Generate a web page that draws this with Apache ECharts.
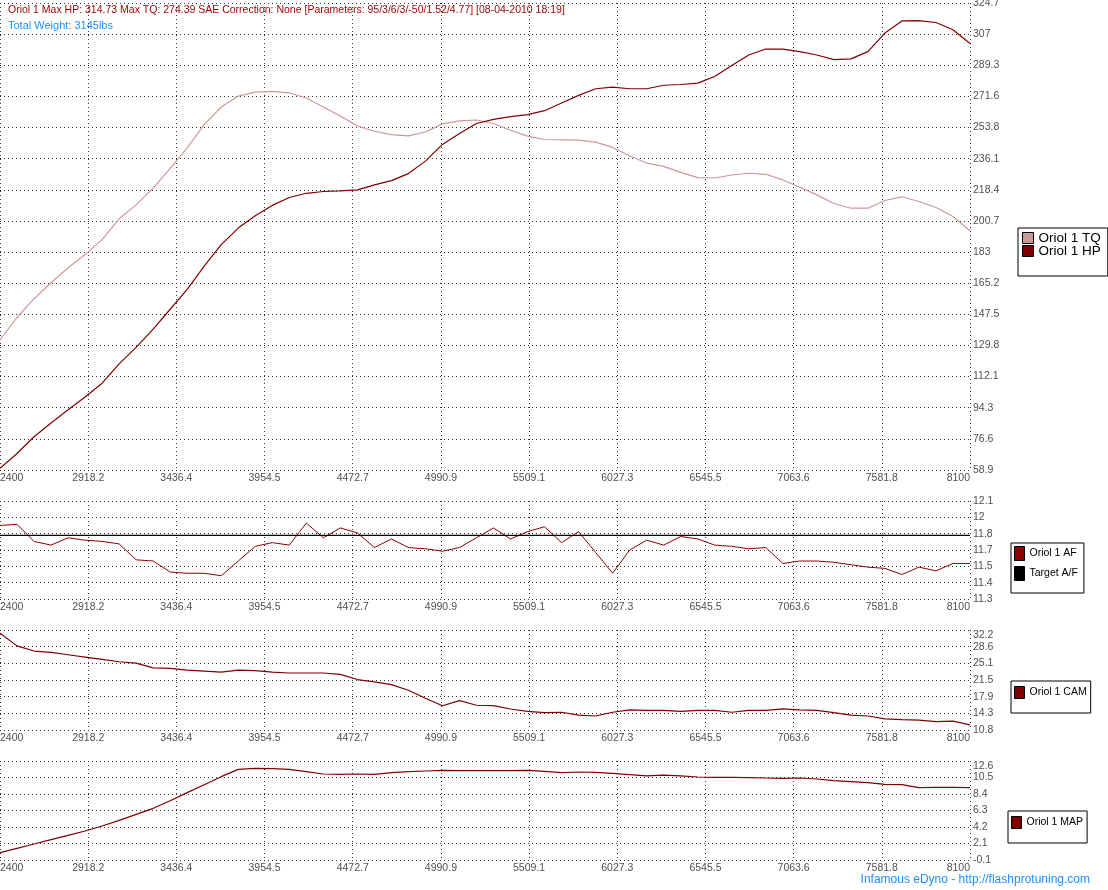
<!DOCTYPE html>
<html>
<head>
<meta charset="utf-8">
<title>Oriol 1 - eDyno</title>
<script src="https://cdn.jsdelivr.net/npm/echarts@6.0.0/dist/echarts.min.js"></script>
<style>
html, body { margin: 0; padding: 0; background: #fff; }
#chart { width: 1108px; height: 890px; }
</style>
</head>
<body>
<div id="chart"></div>
<script>
// engine speed of every logged sample
var rpm = [2400, 2500, 2600, 2700, 2800, 2900, 3000, 3100, 3200, 3300,
    3400, 3500, 3600, 3700, 3800, 3900, 4000, 4100, 4200, 4300,
    4400, 4500, 4600, 4700, 4800, 4900, 5000, 5100, 5200, 5300,
    5400, 5500, 5600, 5700, 5800, 5900, 6000, 6100, 6200, 6300,
    6400, 6500, 6600, 6700, 6800, 6900, 7000, 7100, 7200, 7300,
    7400, 7500, 7600, 7700, 7800, 7900, 8000, 8100];

var tq = [132.9, 145.7, 156.4, 165.5, 174.0, 181.5, 190.0, 201.9, 209.8, 219.3,
    230.6, 242.3, 255.5, 265.5, 271.7, 274.0, 274.4, 273.6, 270.6, 265.5,
    260.4, 254.7, 251.7, 249.8, 249.1, 251.3, 255.9, 257.6, 258.1, 256.1,
    252.3, 248.9, 247.0, 246.8, 246.6, 245.5, 242.5, 237.8, 233.6, 231.7,
    228.3, 225.3, 225.1, 226.8, 227.8, 227.2, 224.0, 219.8, 215.5, 210.6,
    207.9, 207.9, 212.3, 214.4, 211.7, 208.3, 203.2, 195.1];

var hp = [59.8, 68.3, 77.8, 85.7, 93.2, 100.4, 108.3, 119.3, 128.7, 139.1,
    150.4, 161.7, 174.9, 187.2, 196.6, 203.6, 209.5, 214.0, 216.4, 217.4,
    217.8, 218.3, 221.2, 223.6, 227.6, 234.7, 244.2, 250.4, 256.1, 258.5,
    260.0, 261.2, 263.4, 267.8, 272.1, 275.9, 276.8, 275.9, 275.9, 277.9,
    278.3, 279.1, 282.9, 289.1, 295.1, 298.5, 298.5, 297.0, 295.1, 292.5,
    292.9, 297.0, 307.6, 314.5, 314.7, 313.6, 309.5, 301.7];

var af = [11.90, 11.91, 11.77, 11.74, 11.80, 11.78, 11.77, 11.75, 11.62, 11.61,
    11.52, 11.51, 11.51, 11.49, 11.61, 11.73, 11.76, 11.74, 11.92, 11.80,
    11.88, 11.84, 11.72, 11.79, 11.72, 11.71, 11.69, 11.72, 11.80, 11.88,
    11.79, 11.85, 11.89, 11.76, 11.85, 11.68, 11.51, 11.70, 11.78, 11.74,
    11.81, 11.79, 11.74, 11.73, 11.71, 11.72, 11.59, 11.61, 11.61, 11.60,
    11.58, 11.56, 11.55, 11.50, 11.56, 11.53, 11.59, 11.59];
var targetAF = 11.82;

var cam = [31.5, 28.8, 27.7, 27.4, 26.9, 26.4, 25.9, 25.4, 25.1, 24.1,
    24.0, 23.6, 23.4, 23.2, 23.6, 23.5, 23.2, 23.0, 23.0, 23.0,
    22.7, 21.6, 21.1, 20.5, 19.3, 17.6, 16.0, 17.1, 16.1, 16.0,
    15.3, 14.8, 14.5, 14.6, 14.0, 13.8, 14.6, 15.1, 15.0, 15.0,
    14.8, 15.0, 15.0, 14.6, 15.0, 15.0, 15.3, 15.1, 15.0, 14.5,
    14.0, 13.8, 13.2, 13.0, 12.9, 12.6, 12.7, 11.9];

var map = [0.84, 1.40, 1.95, 2.51, 3.06, 3.62, 4.26, 4.99, 5.76, 6.53,
    7.51, 8.54, 9.56, 10.59, 11.53, 11.66, 11.62, 11.53, 11.23, 10.93,
    10.89, 10.93, 10.89, 11.10, 11.23, 11.32, 11.40, 11.36, 11.36, 11.36,
    11.36, 11.40, 11.27, 11.10, 11.19, 11.15, 11.02, 10.85, 10.68, 10.80,
    10.68, 10.55, 10.50, 10.50, 10.46, 10.42, 10.38, 10.42, 10.29, 10.08,
    9.95, 9.82, 9.61, 9.56, 9.18, 9.22, 9.22, 9.18];

// tick labels as the dyno software prints them
var rpmTicks = [2400, 2918.2, 3436.4, 3954.5, 4472.7, 4990.9, 5509.1, 6027.3, 6545.5, 7063.6, 7581.8, 8100];
var powerTicks = ['58.9', '76.6', '94.3', '112.1', '129.8', '147.5', '165.2', '183', '200.7', '218.4',
    '236.1', '253.8', '271.6', '289.3', '307', '324.7'];
var afTicks = ['11.3', '11.4', '11.5', '11.7', '11.8', '12', '12.1'];
var camTicks = ['10.8', '14.3', '17.9', '21.5', '25.1', '28.6', '32.2'];
var mapTicks = ['-0.1', '2.1', '4.2', '6.3', '8.4', '10.5', '12.6'];

var dotted = { color: '#333', width: 1, type: [1, 3] };
var labelColor = '#505050';
var labelSize = 10.5;

function pairs(ys) {
    return rpm.map(function (r, i) { return [r, ys[i]]; });
}

function xAxis(idx) {
    return {
        type: 'value', gridIndex: idx, min: 2400, max: 8100,
        axisLine: { show: false },
        axisTick: { show: false, customValues: rpmTicks },
        axisLabel: {
            customValues: rpmTicks, color: labelColor, fontSize: labelSize, margin: 3,
            alignMinLabel: 'left', alignMaxLabel: 'right', hideOverlap: false,
            formatter: function (v) { return String(v); }
        },
        splitLine: { show: true, lineStyle: dotted }
    };
}

// evenly spaced ticks between first and last label, shown with the printed text
function yAxis(idx, labels, dropTop) {
    var n = labels.length - 1;
    var lo = parseFloat(labels[0]), hi = parseFloat(labels[n]);
    var step = (hi - lo) / n;
    var vals = labels.map(function (l, i) { return i === n ? hi : lo + i * step; });
    return {
        type: 'value', gridIndex: idx, position: 'right', min: lo, max: hi,
        axisLine: { show: false },
        axisTick: { show: false, customValues: vals },
        axisLabel: {
            customValues: vals, color: labelColor, fontSize: labelSize, margin: 3, hideOverlap: false,
            formatter: function (v) {
                var i = Math.round((v - lo) / step);
                return (dropTop && i === n) ? '{t|' + labels[i] + '}' : labels[i];
            },
            rich: { t: { color: labelColor, fontSize: labelSize, padding: [10, 0, 0, 0] } }
        },
        splitLine: { show: true, lineStyle: dotted }
    };
}

function line(name, idx, ys, color, w) {
    return {
        name: name, type: 'line', xAxisIndex: idx, yAxisIndex: idx,
        data: pairs(ys), symbol: 'none', color: color,
        lineStyle: { color: color, width: w }, animation: false
    };
}

function smallLegend(names, left, top, ih, pad) {
    return {
        data: names, left: left, top: top, orient: 'vertical', icon: 'rect',
        itemWidth: 10, itemHeight: ih, itemGap: 5, padding: pad,
        borderColor: '#000', borderWidth: 1, backgroundColor: '#fff',
        itemStyle: { borderColor: '#000', borderWidth: 1 },
        textStyle: { fontSize: 10.5, color: '#000' }, selectedMode: false
    };
}

var chart = echarts.init(document.getElementById('chart'));
var option = {
    animation: false,
    backgroundColor: '#fff',
    textStyle: { fontFamily: 'Liberation Sans, Arial, sans-serif' },
    title: [
        {
            text: 'Oriol 1 Max HP: 314.73 Max TQ: 274.39 SAE Correction: None [Parameters: 95/3/6/3/-50/1.52/4.77] [08-04-2010 18:19]',
            left: 8, top: 5, padding: 0,
            textStyle: { fontSize: 10.5, fontWeight: 'normal', color: '#9b0000' }
        },
        {
            text: 'Total Weight: 3145lbs', left: 8, top: 20, padding: 0,
            textStyle: { fontSize: 11, fontWeight: 'normal', color: '#1e90ff' }
        },
        {
            text: 'Infamous eDyno - http://flashprotuning.com', right: 18, top: 874, padding: 0,
            textStyle: { fontSize: 12, fontWeight: 'normal', color: '#1e90ff' }
        }
    ],
    grid: [
        { left: 0, top: 3, width: 970, height: 467, outerBoundsMode: 'none' },
        { left: 0, top: 501, width: 970, height: 98, outerBoundsMode: 'none' },
        { left: 0, top: 630, width: 970, height: 100, outerBoundsMode: 'none' },
        { left: 0, top: 761, width: 970, height: 99, outerBoundsMode: 'none' }
    ],
    xAxis: [xAxis(0), xAxis(1), xAxis(2), xAxis(3)],
    yAxis: [yAxis(0, powerTicks), yAxis(1, afTicks), yAxis(2, camTicks, true), yAxis(3, mapTicks, true)],
    legend: [
        {
            data: ['Oriol 1 TQ', 'Oriol 1 HP'], left: 1018, top: 228, orient: 'vertical', icon: 'rect',
            itemWidth: 11, itemHeight: 11, itemGap: -1, padding: [3, 7, 18, 4],
            borderColor: '#000', borderWidth: 1, backgroundColor: '#fff',
            itemStyle: { borderColor: '#000', borderWidth: 1 },
            textStyle: { fontSize: 13.5, color: '#000' }, selectedMode: false
        },
        smallLegend(['Oriol 1 AF', 'Target A/F'], 1011, 543, 14, [3, 6, 12, 3]),
        smallLegend(['Oriol 1 CAM'], 1011, 681, 12, [5, 4, 14, 3]),
        smallLegend(['Oriol 1 MAP'], 1008, 811, 12, [5, 4, 14, 3])
    ],
    series: [
        line('Oriol 1 TQ', 0, tq, '#cc9999', 1.2),
        line('Oriol 1 HP', 0, hp, '#800000', 1.2),
        line('Oriol 1 AF', 1, af, '#8b0000', 1),
        {
            name: 'Target A/F', type: 'line', xAxisIndex: 1, yAxisIndex: 1,
            data: [[rpm[0], targetAF], [rpm[rpm.length - 1], targetAF]],
            symbol: 'none', color: '#000', lineStyle: { color: '#000', width: 1.2 }, animation: false
        },
        line('Oriol 1 CAM', 2, cam, '#800000', 1.2),
        line('Oriol 1 MAP', 3, map, '#800000', 1.2)
    ]
};
chart.setOption(option);
</script>
</body>
</html>
